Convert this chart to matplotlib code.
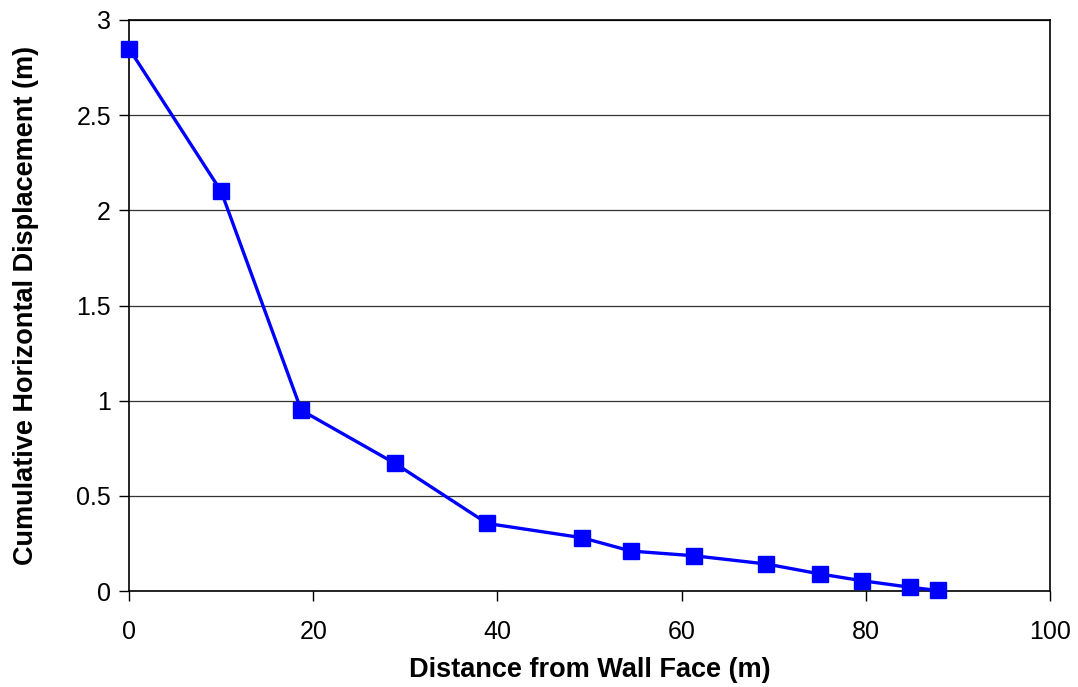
import matplotlib.pyplot as plt

distance = [0, 10, 18.7, 28.9, 38.9, 49.2, 54.5, 61.4, 69.2, 75.0, 79.6, 84.8, 87.8]
displacement = [2.85, 2.10, 0.95, 0.67, 0.355, 0.28, 0.21, 0.185, 0.142, 0.09, 0.054, 0.02, 0.003]

plt.rcParams['font.family'] = ['Liberation Sans', 'DejaVu Sans']

fig = plt.figure(figsize=(10.78, 6.87), dpi=100)
ax = fig.add_axes([0.1197, 0.1397, 0.8543, 0.8312])

ax.plot(distance, displacement, color="#0000ff", linewidth=2.4,
        marker="s", markersize=12, clip_on=False, zorder=3)

ax.set_xlim(0, 100)
ax.set_ylim(0, 3)
ax.set_xticks([0, 20, 40, 60, 80, 100])
ax.set_yticks([0, 0.5, 1, 1.5, 2, 2.5, 3])
ax.set_yticklabels(["0", "0.5", "1", "1.5", "2", "2.5", "3"])
ax.grid(axis="y", color="#333333", linewidth=0.9)
ax.set_axisbelow(True)
for s in ax.spines.values():
    s.set_color("black")
    s.set_linewidth(1.2)
ax.tick_params(labelsize=18, length=7, width=1)
ax.tick_params(axis="x", pad=14)
ax.tick_params(axis="y", pad=6)

ax.set_xlabel("Distance from Wall Face (m)", fontsize=19.5, fontweight="bold", labelpad=9)
ax.set_ylabel("Cumulative Horizontal Displacement (m)", fontsize=19.5, fontweight="bold", labelpad=27)

fig.savefig("out.png", dpi=100)
